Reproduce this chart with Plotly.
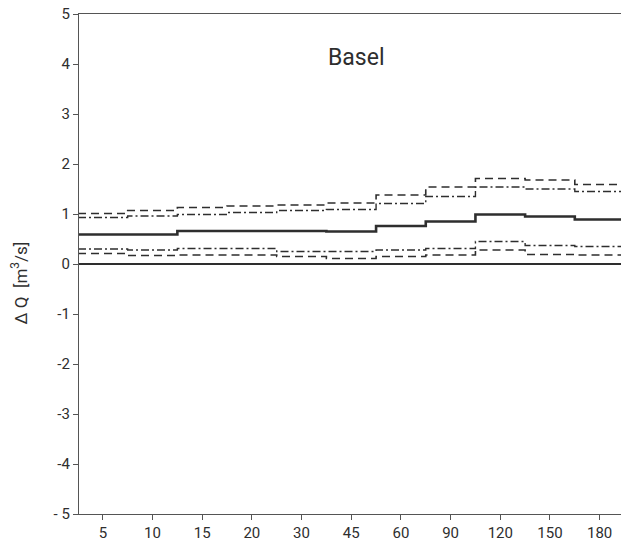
import plotly.graph_objects as go

durations = ["5", "10", "15", "20", "30", "45", "60", "90", "120", "150", "180"]
mean_vals = [0.59, 0.59, 0.66, 0.66, 0.66, 0.65, 0.76, 0.85, 0.99, 0.95, 0.89]
upper_dash = [1.01, 1.07, 1.13, 1.16, 1.18, 1.22, 1.38, 1.54, 1.71, 1.68, 1.59]
upper_dashdot = [0.93, 0.96, 0.99, 1.03, 1.07, 1.09, 1.21, 1.35, 1.54, 1.50, 1.45]
lower_dashdot = [0.30, 0.28, 0.31, 0.31, 0.25, 0.25, 0.28, 0.31, 0.45, 0.37, 0.35]
lower_dash = [0.21, 0.17, 0.18, 0.18, 0.15, 0.11, 0.15, 0.18, 0.28, 0.19, 0.18]
y_ticks = [-5, -4, -3, -2, -1, 0, 1, 2, 3, 4, 5]
y_ticktext = ["- 5", "-4", "-3", "-2", "-1", "0", "1", "2", "3", "4", "5"]

n = len(durations)
edges = [i - 0.5 for i in range(n)] + [n - 0.5]

def step(vals):
    return vals + [vals[-1]]

ink = "#2e2e2e"
fig = go.Figure()
series = [
    (upper_dash, "8px,5px", 1.6),
    (upper_dashdot, "8px,3px,2px,3px", 1.4),
    (lower_dashdot, "8px,3px,2px,3px", 1.4),
    (lower_dash, "8px,5px", 1.6),
    (mean_vals, "solid", 2.6),
]
for vals, dash, w in series:
    fig.add_trace(go.Scatter(x=edges, y=step(vals), mode="lines", line_shape="hv",
                             line=dict(color=ink, width=w, dash=dash),
                             showlegend=False, hoverinfo="skip"))

fig.add_annotation(text="Basel", xref="paper", x=(356 - 79) / 542, yref="y", y=4.14,
                   showarrow=False, font=dict(size=23, color=ink),
                   xanchor="center", yanchor="middle")

fig.add_annotation(text="Δ Q  [m<sup>3</sup>/s]", textangle=-90, xref="paper", x=-0.11,
                   yref="y", y=-0.38, showarrow=False, font=dict(size=17, color=ink),
                   xanchor="center", yanchor="middle")

fig.update_layout(
    width=621, height=541,
    margin=dict(l=79, r=0, t=14, b=27),
    paper_bgcolor="white", plot_bgcolor="white",
    font=dict(family="Roboto, DejaVu Sans, sans-serif", size=15, color=ink),
    xaxis=dict(range=[-0.48, 10.43], tickmode="array", tickvals=list(range(n)),
               ticktext=durations, showgrid=False, zeroline=False,
               showline=True, linecolor="#555", linewidth=1.2, mirror=True,
               ticks="outside", ticklen=5, tickcolor="#555", tickfont=dict(size=15)),
    yaxis=dict(range=[-5, 5], tickmode="array", tickvals=y_ticks, ticktext=y_ticktext,
               showgrid=False, zeroline=True, zerolinecolor=ink, zerolinewidth=1.5,
               showline=True, linecolor="#555", linewidth=1.2,
               ticks="outside", ticklen=5, tickcolor="#555", tickfont=dict(size=15)),
)
fig.write_html("out.html")
